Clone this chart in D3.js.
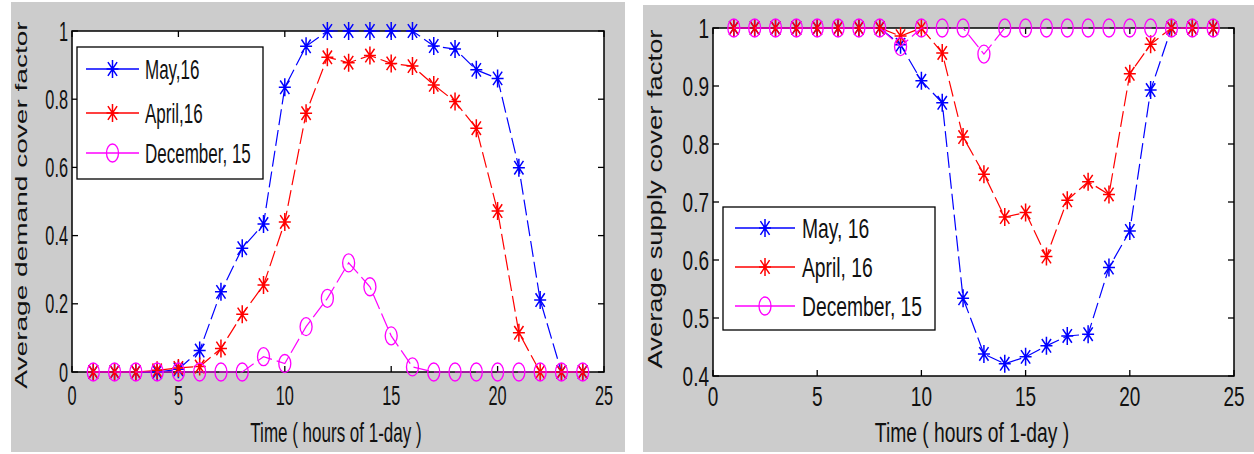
<!DOCTYPE html>
<html><head><meta charset="utf-8">
<script src="https://cdn.jsdelivr.net/npm/d3@7"></script>
<style>body{margin:0;background:#fff}svg{display:block}</style>
</head><body>
<svg id="c" width="1254" height="454"></svg>
<script>
const hours = d3.range(1, 25);
const xTicks = [0, 5, 10, 15, 20, 25];
const demandYTicks = [0, 0.2, 0.4, 0.6, 0.8, 1];
const supplyYTicks = [0.4, 0.5, 0.6, 0.7, 0.8, 0.9, 1];
const seriesNames = ["May,16", "April,16", "December, 15"];
const seriesNamesSupply = ["May, 16", "April, 16", "December, 15"];
const colors = ["#0000ff", "#ff0000", "#ff00ff"];
const markers = ["star", "star", "circle"];

const demandMay = [0,0,0,0,0.008,0.063,0.235,0.363,0.434,0.835,0.955,1,1,1,1,1,0.956,0.947,0.886,0.861,0.599,0.211,0,0];
const demandApril = [0,0,0,0.005,0.012,0.016,0.069,0.169,0.255,0.44,0.759,0.923,0.907,0.928,0.905,0.897,0.842,0.793,0.715,0.472,0.115,0,0,0];
const demandDec = [0,0,0,0,0,0,0,0,0.045,0.025,0.133,0.216,0.32,0.25,0.106,0.015,0,0,0,0,0,0,0,0];

const supplyMay = [1,1,1,1,1,1,1,1,0.971,0.909,0.871,0.534,0.438,0.421,0.433,0.452,0.469,0.472,0.587,0.65,0.893,1,1,1];
const supplyApril = [1,1,1,1,1,1,1,1,0.986,1,0.957,0.812,0.748,0.674,0.682,0.606,0.703,0.735,0.713,0.921,0.972,1,1,1];
const supplyDec = [1,1,1,1,1,1,1,1,0.968,1,1,1,0.955,1,1,1,1,1,1,1,1,1,1,1];

const svg = d3.select("#c");

function starPath(){ return "M0,-9L0,9M-6,0L6,0M-4.6,-6.8L4.6,6.8M4.6,-6.8L-4.6,6.8"; }

function drawMarker(g, type, color, x, y){
  if (type === "star") {
    g.append("path").attr("d", starPath()).attr("transform", `translate(${x},${y})`)
      .attr("stroke", color).attr("stroke-width", 1.5).attr("fill", "none");
  } else {
    g.append("ellipse").attr("cx", x).attr("cy", y).attr("rx", 6).attr("ry", 9)
      .attr("stroke", color).attr("stroke-width", 1.3).attr("fill", "none");
  }
}

function panel(cfg){
  const g = svg.append("g");
  g.append("rect").attr("x", cfg.bg[0]).attr("y", cfg.bg[1]).attr("width", cfg.bg[2]).attr("height", cfg.bg[3]).attr("fill", "#cccccc");
  const x = d3.scaleLinear().domain([0, 25]).range(cfg.xr);
  const y = d3.scaleLinear().domain(cfg.yd).range(cfg.yr);
  const [x0, x1] = cfg.xr, [y0, y1] = cfg.yr;
  g.append("rect").attr("x", x0).attr("y", y1).attr("width", x1 - x0).attr("height", y0 - y1).attr("fill", "#fff");
  const tl = 6;
  xTicks.forEach(t => {
    g.append("line").attr("x1", x(t)).attr("x2", x(t)).attr("y1", y0).attr("y2", y0 - tl).attr("stroke", "#000").attr("stroke-width", 1.3);
    g.append("line").attr("x1", x(t)).attr("x2", x(t)).attr("y1", y1).attr("y2", y1 + tl).attr("stroke", "#000").attr("stroke-width", 1.3);
    g.append("text").attr("transform", `translate(${x(t)},${cfg.xtBase}) scale(1,${cfg.sy})`)
      .attr("text-anchor", "middle").attr("font-size", cfg.tf).text(d3.format("")(t));
  });
  cfg.yt.forEach(t => {
    g.append("line").attr("x1", x0).attr("x2", x0 + tl).attr("y1", y(t)).attr("y2", y(t)).attr("stroke", "#000").attr("stroke-width", 1.3);
    g.append("line").attr("x1", x1).attr("x2", x1 - tl).attr("y1", y(t)).attr("y2", y(t)).attr("stroke", "#000").attr("stroke-width", 1.3);
    g.append("text").attr("transform", `translate(${x0 - 4},${y(t) + 0.36 * cfg.tf * cfg.sy}) scale(1,${cfg.sy})`)
      .attr("text-anchor", "end").attr("font-size", cfg.tf).text(String(+t.toFixed(1)));
  });
  g.append("rect").attr("x", x0).attr("y", y1).attr("width", x1 - x0).attr("height", y0 - y1)
    .attr("fill", "none").attr("stroke", "#000").attr("stroke-width", 1.5);
  const line = d3.line().x((d, i) => x(hours[i])).y(d => y(d));
  cfg.series.forEach((s, k) => {
    g.append("path").datum(s).attr("d", line).attr("fill", "none").attr("stroke", colors[k])
      .attr("stroke-width", 1.2).attr("stroke-dasharray", "16,5");
    s.forEach((v, i) => drawMarker(g, markers[k], colors[k], x(hours[i]), y(v)));
  });
  g.append("text").attr("transform", `translate(${cfg.xl[0]},${cfg.xl[1]}) scale(1,${cfg.sy})`)
    .attr("text-anchor", "middle").attr("font-size", cfg.lf).text("Time ( hours of 1-day )");
  g.append("text").attr("transform", `translate(${cfg.yl[0]},${cfg.yl[1]}) rotate(-90) scale(${cfg.sy},1)`)
    .attr("text-anchor", "middle").attr("font-size", cfg.lf).text(cfg.ylabel);
  const L = cfg.leg;
  g.append("rect").attr("x", L.x).attr("y", L.y).attr("width", L.w).attr("height", L.h)
    .attr("fill", "#fff").attr("stroke", "#000").attr("stroke-width", 1.3);
  cfg.names.forEach((n, k) => {
    const yy = L.rows[k];
    g.append("line").attr("x1", L.l0).attr("x2", L.l1).attr("y1", yy).attr("y2", yy).attr("stroke", colors[k]).attr("stroke-width", 1.3);
    drawMarker(g, markers[k], colors[k], (L.l0 + L.l1) / 2, yy);
    g.append("text").attr("transform", `translate(${L.tx},${yy + 0.36 * cfg.lf * cfg.sy}) scale(1,${cfg.sy})`)
      .attr("font-size", cfg.lf).text(n);
  });
}

svg.attr("font-family", "'Liberation Sans', Arial, sans-serif").attr("fill", "#111");

panel({
  bg: [11, 2, 614, 450], xr: [72, 604], yd: [0, 1], yr: [372, 31], yt: demandYTicks,
  sy: 1.65, tf: 16.3, lf: 17, xtBase: 405, xl: [336, 442], yl: [27, 205],
  ylabel: "Average demand cover factor",
  series: [demandMay, demandApril, demandDec], names: seriesNames,
  leg: {x: 77, y: 47, w: 186, h: 132, rows: [69, 113, 153], l0: 86, l1: 139, tx: 145}
});
panel({
  bg: [643, 5, 611, 447], xr: [713, 1234], yd: [0.4, 1], yr: [376, 28], yt: supplyYTicks,
  sy: 1.42, tf: 19, lf: 19.3, xtBase: 406, xl: [972, 442], yl: [662, 199],
  ylabel: "Average supply cover factor",
  series: [supplyMay, supplyApril, supplyDec], names: seriesNamesSupply,
  leg: {x: 723, y: 207, w: 212, h: 123, rows: [228, 267, 306], l0: 735, l1: 795, tx: 802}
});
</script>
</body></html>
